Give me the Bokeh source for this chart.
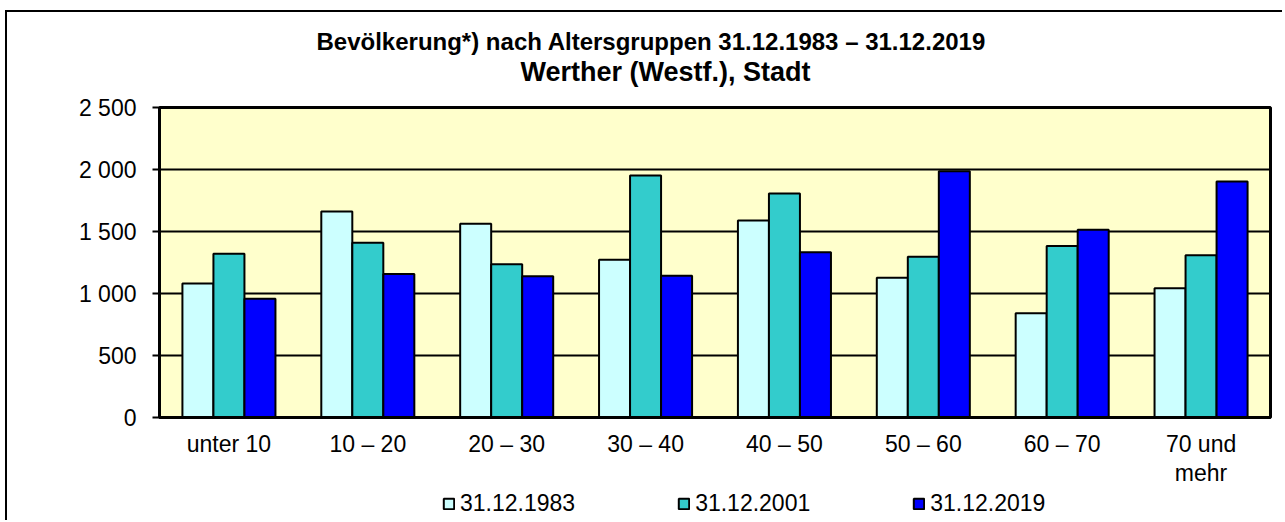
from bokeh.plotting import figure
from bokeh.models import (FixedTicker, Legend, LegendItem, Title,
                          ColumnDataSource, LinearAxis, Range1d)
from bokeh.transform import dodge
from bokeh.layouts import column
from bokeh.embed import file_html
from bokeh.resources import INLINE

# ---- data ----
categories = ["unter 10", "10 – 20", "20 – 30", "30 – 40", "40 – 50",
              "50 – 60", "60 – 70", "70 und mehr"]
label_line1 = ["unter 10", "10 – 20", "20 – 30", "30 – 40", "40 – 50",
               "50 – 60", "60 – 70", "70 und"]
label_line2 = {7: "mehr"}
series_names = ["31.12.1983", "31.12.2001", "31.12.2019"]
v1983 = [1080, 1662, 1562, 1273, 1589, 1128, 841, 1042]
v2001 = [1321, 1409, 1235, 1951, 1806, 1297, 1383, 1308]
v2019 = [957, 1158, 1139, 1144, 1332, 1986, 1514, 1903]
y_ticks = [0, 500, 1000, 1500, 2000, 2500]
y_tick_labels = ["0", "500", "1 000", "1 500", "2 000", "2 500"]
title_line1 = "Bevölkerung*) nach Altersgruppen 31.12.1983 – 31.12.2019"
title_line2 = "Werther (Westf.), Stadt"

FONT = "Liberation Sans"
colors = ["#CCFFFF", "#33CCCC", "#0000FF"]
idx = list(range(len(categories)))
bw = 0.2233
offsets = [-bw, 0, bw]
cols = ["a", "b", "c"]

src = ColumnDataSource(dict(i=idx, cat=categories, a=v1983, b=v2001, c=v2019))

W = 1275
# ---------------- main chart ----------------
p = figure(x_range=Range1d(-0.5, len(categories) - 0.5),
           y_range=Range1d(0, 2500), width=W, height=476, title=None,
           output_backend="svg", toolbar_location=None,
           min_border_left=152, min_border_right=12,
           min_border_top=95, min_border_bottom=71)

p.background_fill_color = "#FFFFCC"
p.border_fill_color = "white"
p.outline_line_color = "black"
p.outline_line_width = 3

for off, col, color in zip(offsets, cols, colors):
    p.vbar(x=dodge("i", off), top=col, width=bw, source=src,
           fill_color=color, line_color="black", line_width=2)

p.xgrid.visible = False
p.ygrid.grid_line_color = "black"
p.ygrid.grid_line_width = 2
p.ygrid.ticker = FixedTicker(ticks=y_ticks)

ya = p.yaxis[0]
ya.ticker = FixedTicker(ticks=y_ticks)
ya.major_label_overrides = dict(zip(y_ticks, y_tick_labels))
ya.major_label_text_font = FONT
ya.major_label_text_font_size = "23px"
ya.major_label_text_color = "black"
ya.major_tick_out = 7
ya.major_tick_in = 0
ya.major_tick_line_width = 2
ya.major_tick_line_color = "black"
ya.minor_tick_line_color = None
ya.axis_line_width = 3
ya.axis_line_color = "black"
ya.major_label_standoff = 16

xa = p.xaxis[0]
xa.ticker = FixedTicker(ticks=idx)
xa.major_label_overrides = dict(zip(idx, label_line1))
xa.major_label_text_font = FONT
xa.major_label_text_font_size = "23px"
xa.major_label_text_color = "black"
xa.major_tick_out = 0
xa.major_tick_in = 0
xa.minor_tick_line_color = None
xa.major_tick_line_color = None
xa.axis_line_width = 3
xa.axis_line_color = "black"
xa.major_label_standoff = 13

xa2 = LinearAxis(ticker=FixedTicker(ticks=list(label_line2.keys())),
                 major_label_overrides=label_line2,
                 major_label_text_font=FONT,
                 major_label_text_font_size="23px",
                 major_label_text_color="black",
                 major_tick_out=0, major_tick_in=0,
                 axis_line_color=None, major_tick_line_color=None,
                 minor_tick_line_color=None,
                 major_label_standoff=0)
p.add_layout(xa2, "below")

spacer = Title(text=" ", text_font_size="10px", standoff=8)
t2 = Title(text=title_line2, align="left", offset=361,
           text_font=FONT, text_font_size="27px", text_font_style="bold",
           text_color="black", standoff=0)
t1 = Title(text=title_line1, align="left", offset=157,
           text_font=FONT, text_font_size="24px", text_font_style="bold",
           text_color="black", standoff=0)
p.add_layout(spacer, "above")
p.add_layout(t2, "above")
p.add_layout(t1, "above")

# ---------------- legend strip ----------------
lg = figure(x_range=Range1d(-0.5, len(categories) - 0.5),
            y_range=Range1d(3000, 3001),
            width=W, height=32, title=None, output_backend="svg",
            toolbar_location=None, x_axis_location=None,
            y_axis_location=None, min_border=0)
lg.outline_line_color = None
lg.grid.visible = False
lg.background_fill_color = "white"
lg.border_fill_color = "white"

proxies = []
for off, col, color in zip(offsets, cols, colors):
    r = lg.vbar(x=dodge("i", off), top=col, width=bw, source=src,
                fill_color=color, line_color="black", line_width=2)
    r.visible = False
    proxies.append(r)

legend = Legend(items=[LegendItem(label=n, renderers=[r])
                       for n, r in zip(series_names, proxies)],
                orientation="horizontal", location=(283, 3),
                glyph_width=13, glyph_height=13, label_standoff=5,
                spacing=102, padding=0, margin=0,
                border_line_alpha=0, background_fill_alpha=0,
                inactive_fill_alpha=0,
                label_text_font=FONT, label_text_font_size="23px",
                label_text_color="black")
lg.add_layout(legend)

layout = column(p, lg, spacing=0,
                styles={"border-left": "2px solid black",
                        "border-top": "2px solid black",
                        "margin-left": "5px", "margin-top": "10px"})

open("out.html", "w").write(file_html(layout, INLINE))
